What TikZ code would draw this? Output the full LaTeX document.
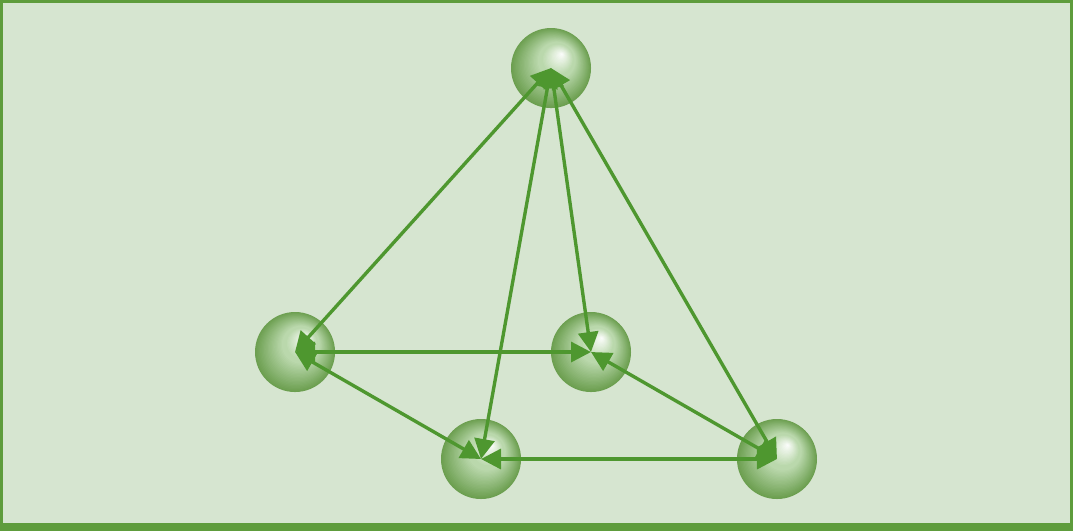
\documentclass[tikz,border=0pt]{standalone}
\usepackage{xcolor}
\definecolor{netBg}{HTML}{D6E5D0}
\definecolor{netFrame}{HTML}{5E9C3C}
\definecolor{netArrow}{HTML}{4E972F}
\definecolor{netMid}{HTML}{BAD8AC}
\definecolor{netDark}{HTML}{6C9F50}
\usepackage{tikz}
\usetikzlibrary{arrows.meta}

\begin{document}
\begin{tikzpicture}[x=0.025cm, y=-0.025cm,
    sph/.style={circle, minimum size=2cm, inner sep=0pt, fill=netDark,
      path picture={
        \foreach \k in {1,...,39}{
          \pgfmathsetmacro\sphT{\k/40}
          \pgfmathsetmacro\sphA{min(100,\sphT*190)}
          \pgfmathsetmacro\sphB{max(0,(\sphT-0.6)*250)}
          \colorlet{sphtmp}{netMid!\sphA!netDark}
          \fill[white!\sphB!sphtmp]
            ([xshift=\sphT*0.275cm, yshift=\sphT*0.35cm]path picture bounding box.center)
            circle[radius=(1-\sphT)*1cm];
        }}},
    arr/.style={{Triangle[length=0.5cm,width=0.5cm]}-{Triangle[length=0.5cm,width=0.5cm]}, line width=2.4pt, netArrow}
  ]
    % frame
    \fill[netBg] (0,0) rectangle (1073,531);
    \draw[netFrame, line width=2.2pt] (1.5,1.5) rectangle (1071.5,529.5);
    \fill[netFrame] (0,523) rectangle (1073,531);
    \useasboundingbox (0,0) rectangle (1073,531);

    \node[sph] (apex) at (551,68) {};
    \node[sph] (left) at (295,352) {};
    \node[sph] (mid) at (591,352) {};
    \node[sph] (low) at (481,459) {};
    \node[sph] (right) at (777,459) {};

    \draw[arr] (apex.center) -- (left.center);
    \draw[arr] (apex.center) -- (mid.center);
    \draw[arr] (apex.center) -- (low.center);
    \draw[arr] (apex.center) -- (right.center);
    \draw[arr] (left.center) -- (mid.center);
    \draw[arr] (left.center) -- (low.center);
    \draw[arr] (right.center) -- (mid.center);
    \draw[arr] (right.center) -- (low.center);
  \end{tikzpicture}
\end{document}
